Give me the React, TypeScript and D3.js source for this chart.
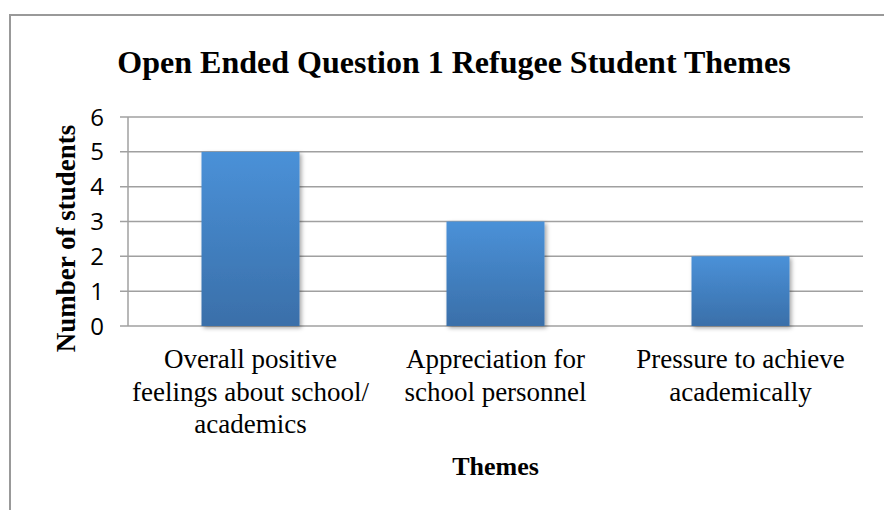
import React from "react";
import * as d3 from "d3";

const categories: string[][] = [
  ["Overall positive", "feelings about school/", "academics"],
  ["Appreciation for", "school personnel"],
  ["Pressure to achieve", "academically"],
];
const values: number[] = [5, 3, 2];
const yTicks: number[] = [0, 1, 2, 3, 4, 5, 6];
const title = "Open Ended Question 1 Refugee Student Themes";
const yTitle = "Number of students";
const xTitle = "Themes";

const W = 884;
const H = 510;
const plot = { left: 128, right: 863, top: 117, bottom: 326 };

export default function App() {
  const x = d3
    .scaleBand<number>()
    .domain(values.map((_, i) => i))
    .range([plot.left, plot.right])
    .paddingInner(0.6)
    .paddingOuter(0.3);
  const y = d3.scaleLinear().domain([0, 6]).range([plot.bottom, plot.top]);
  const serif = "'Liberation Serif', 'Times New Roman', serif";
  const sans = "'Open Sans', 'Liberation Sans', sans-serif";
  return (
    <div style={{ position: "fixed", left: 0, top: 0, width: W, height: H, background: "#fff" }}>
      <svg width={W} height={H} viewBox={`0 0 ${W} ${H}`}>
        <defs>
          <linearGradient id="barGrad" x1="0" y1="0" x2="0" y2="1">
            <stop offset="0%" stopColor="#4a91d8" />
            <stop offset="100%" stopColor="#3a6fa9" />
          </linearGradient>
          <filter id="shadow" x="-20%" y="-20%" width="150%" height="150%">
            <feDropShadow dx="2" dy="2" stdDeviation="2" floodColor="#000" floodOpacity="0.35" />
          </filter>
        </defs>
        <rect x={10} y={15} width={W + 20} height={H} fill="#fff" stroke="#999" strokeWidth={2} />
        <text x={454} y={73} textAnchor="middle" fontFamily={serif} fontWeight="bold" fontSize={32} fill="#000">
          {title}
        </text>
        {yTicks.map((t) => (
          <g key={t}>
            <line x1={120} x2={plot.right} y1={y(t)} y2={y(t)} stroke="#a0a0a0" strokeWidth={1.5} />
            <text x={104} y={y(t)} dy="0.36em" textAnchor="end" fontFamily={sans} fontSize={24} fill="#000">
              {t}
            </text>
          </g>
        ))}
        <line x1={plot.left} x2={plot.left} y1={plot.top} y2={plot.bottom} stroke="#a0a0a0" strokeWidth={1.5} />
        {values.map((v, i) => (
          <rect
            key={i}
            x={x(i)}
            y={y(v)}
            width={x.bandwidth()}
            height={y(0) - y(v)}
            fill="url(#barGrad)"
            filter="url(#shadow)"
          />
        ))}
        {categories.map((lines, i) => (
          <text
            key={i}
            x={(x(i) as number) + x.bandwidth() / 2}
            y={368}
            textAnchor="middle"
            fontFamily={serif}
            fontSize={27}
            fill="#000"
          >
            {lines.map((l, j) => (
              <tspan key={j} x={(x(i) as number) + x.bandwidth() / 2} dy={j === 0 ? 0 : 32.5}>
                {l}
              </tspan>
            ))}
          </text>
        ))}
        <text
          transform={`translate(75, ${(plot.top + plot.bottom) / 2 + 17}) rotate(-90)`}
          textAnchor="middle"
          fontFamily={serif}
          fontWeight="bold"
          fontSize={27}
          fill="#000"
        >
          {yTitle}
        </text>
        <text x={(plot.left + plot.right) / 2} y={475} textAnchor="middle" fontFamily={serif} fontWeight="bold" fontSize={26} fill="#000">
          {xTitle}
        </text>
      </svg>
    </div>
  );
}
